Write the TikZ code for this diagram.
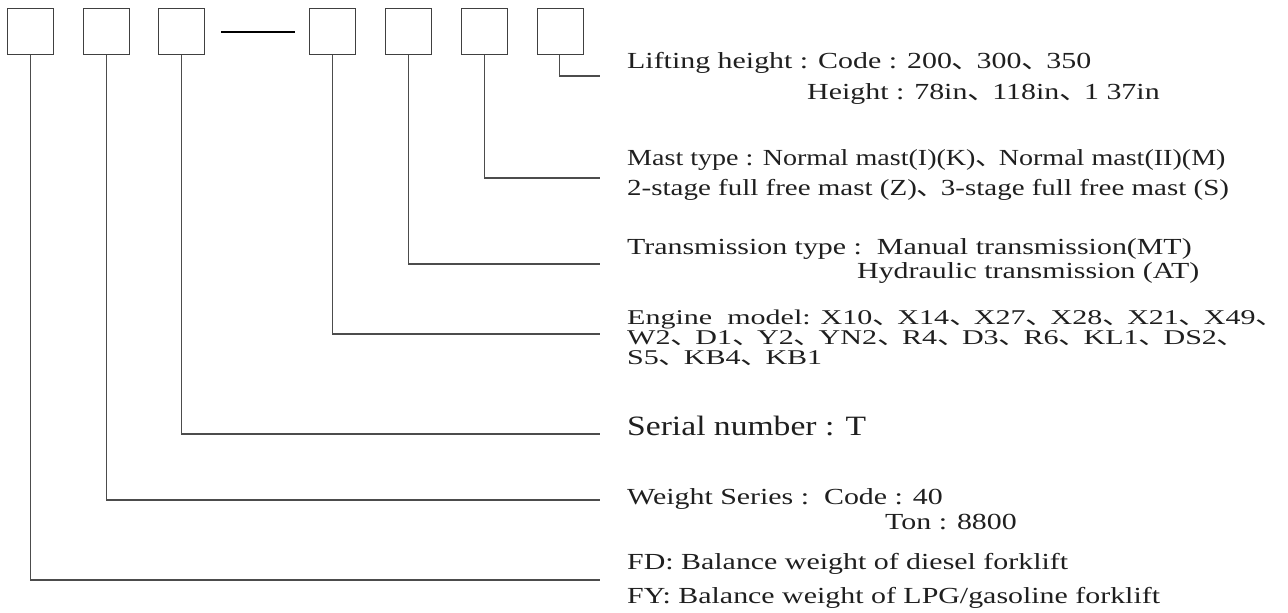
\documentclass[tikz,border=0pt]{standalone}
\usepackage{graphicx}
\usepackage{fontspec}
\setmainfont{Liberation Serif}
\newfontfamily\cjk{Noto Sans CJK SC}
\newcommand{\dn}{\makebox[0.83em][l]{\cjk 、}}
\newcommand{\sx}[1]{\scalebox{1.30}[1]{#1}}
\newcommand{\sxe}[1]{\scalebox{1.43}[1]{#1}}
\newcommand{\sxs}[1]{\scalebox{1.20}[1]{#1}}
\begin{document}
\begin{tikzpicture}[x=1pt,y=-1pt,
  cbox/.style={draw=black!75,line width=1.3pt,minimum width=46pt,minimum height=46pt,inner sep=0pt,anchor=north west},
  lead/.style={draw=black!70,line width=1.3pt},
  lbl/.style={anchor=base west,inner sep=0pt,font=\fontsize{23}{27}\selectfont,text=black!88},
  lble/.style={lbl,font=\fontsize{21}{25}\selectfont},
  lbls/.style={lbl,font=\fontsize{28}{32}\selectfont}]
\useasboundingbox (0,0) rectangle (1288,613);
\node[cbox] (b1) at (7,8) {};
\node[cbox] (b2) at (83,8) {};
\node[cbox] (b3) at (158,8) {};
\node[cbox] (b4) at (309,8) {};
\node[cbox] (b5) at (385,8) {};
\node[cbox] (b6) at (461,8) {};
\node[cbox] (b7) at (537,8) {};
\coordinate (d1) at (221,32);
\coordinate (d2) at (295,32);
\draw[draw=black,line width=1.8pt] (d1) -- (d2);
% end points of the leaders
\coordinate (e7) at (600,76);
\coordinate (e6) at (600,178);
\coordinate (e5) at (600,264);
\coordinate (e4) at (600,334);
\coordinate (e3) at (600,434);
\coordinate (e2) at (600,500);
\coordinate (e1) at (600,580);
\draw[lead] ([xshift=-1pt]b7.south) |- (e7);
\draw[lead] (b6.south) |- (e6);
\draw[lead] (b5.south) |- (e5);
\draw[lead] (b4.south) |- (e4);
\draw[lead] (b3.south) |- (e3);
\draw[lead] (b2.south) |- (e2);
\draw[lead] (b1.south) |- (e1);
% labels
\node[lbl] (t7a) at (627,68) {\sx{Lifting height : Code : 200\dn 300\dn 350}};
\node[lbl] (t7b) at (807,99) {\sx{Height : 78in\dn 118in\dn 1 37in}};
\node[lbl] (t6a) at (627,165) {\scalebox{1.22}[1]{Mast type : Normal mast(I)(K)\dn Normal mast(II)(M)}};
\node[lbl] (t6b) at (627,195) {\scalebox{1.26}[1]{2-stage full free mast (Z)\dn 3-stage full free mast (S)}};
\node[lbl] (t5a) at (627,254) {\sx{Transmission type :\ \ Manual transmission(MT)}};
\node[lbl] (t5b) at (857,278) {\sx{Hydraulic transmission (AT)}};
\node[lble] (t4a) at (627,324) {\sxe{Engine\ \ model: X10\dn X14\dn X27\dn X28\dn X21\dn X49\dn}};
\node[lble] (t4b) at (627,344) {\sxe{W2\dn D1\dn Y2\dn YN2\dn R4\dn D3\dn R6\dn KL1\dn DS2\dn}};
\node[lble] (t4c) at (627,364) {\sxe{S5\dn KB4\dn KB1}};
\node[lbls] (t3) at (627,435) {\sxs{Serial number : T}};
\node[lbl] (t2a) at (627,504) {\sx{Weight Series :\ \ Code : 40}};
\node[lbl] (t2b) at (885,529) {\sx{Ton : 8800}};
\node[lbl] (t1a) at (627,569) {\sx{FD: Balance weight of diesel forklift}};
\node[lbl] (t1b) at (627,603) {\sx{FY: Balance weight of LPG/gasoline forklift}};
\end{tikzpicture}
\end{document}
